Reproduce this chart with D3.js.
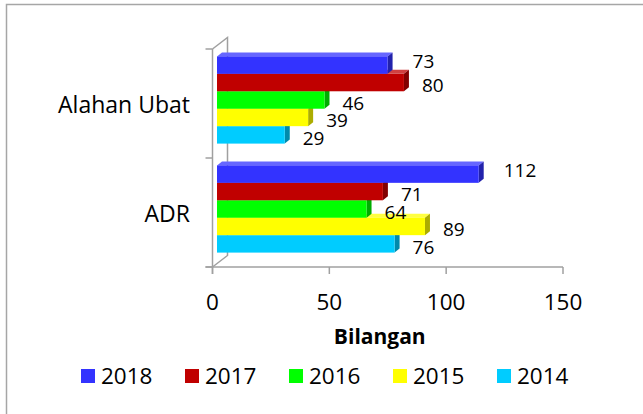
<!DOCTYPE html>
<html>
<head>
<meta charset="utf-8">
<script src="https://cdn.jsdelivr.net/npm/d3@7"></script>
<style>
  body { margin: 0; background: #fff; }
  text { font-family: "Open Sans", "Liberation Sans", sans-serif; fill: #000; }
</style>
</head>
<body>
<svg id="chart" width="643" height="414"></svg>
<script>
// data
var categories = ["Alahan Ubat", "ADR"];
var years = ["2018", "2017", "2016", "2015", "2014"];
var v2018 = [73, 112];
var v2017 = [80, 71];
var v2016 = [46, 64];
var v2015 = [39, 89];
var v2014 = [29, 76];
var xTicks = [0, 50, 100, 150];
var xTitle = "Bilangan";

var seriesValues = [v2018, v2017, v2016, v2015, v2014];
var colors = ["#3333ff", "#c00000", "#00ff00", "#ffff00", "#00ccff"];

var svg = d3.select("#chart");

// outer chart border (runs off right / bottom edge)
svg.append("rect")
  .attr("x", 6.5).attr("y", 4.5)
  .attr("width", 700).attr("height", 500)
  .style("fill", "none").style("stroke", "#a6a6a6").style("stroke-width", 1.5);

var x = d3.scaleLinear().domain([0, 150]).range([212.5, 563]);
var y = d3.scaleBand().domain(categories).range([49, 267]).padding(0);
var ySeries = d3.scaleBand().domain(years)
  .range([0.1 * y.bandwidth(), 0.9 * y.bandwidth()]).padding(0);

// wall depth and bar depth
var wall = {dx: 15, dy: -11.5},
    off = {dx: 4.5, dy: -3.5},
    depth = {dx: 5, dy: -4};

var g = svg.append("g");
var axisColor = "#a0a0a0";

// back wall line + connecting diagonals
g.append("path")
  .attr("d", "M" + x(0) + "," + y.range()[0] + "L" + (x(0) + wall.dx) + "," + (y.range()[0] + wall.dy) +
    "L" + (x(0) + wall.dx) + "," + (y.range()[1] + wall.dy) + "L" + x(0) + "," + y.range()[1])
  .style("fill", "none").style("stroke", axisColor).style("stroke-width", 1.5);

// front category axis
g.append("line")
  .attr("x1", x(0)).attr("x2", x(0))
  .attr("y1", y.range()[0]).attr("y2", y.range()[1] + 7)
  .style("stroke", axisColor).style("stroke-width", 1.5);

var catTicks = [y.range()[0]].concat(categories.map(function (c) { return y(c) + y.bandwidth(); }));
g.selectAll(".ctick").data(catTicks).enter().append("line")
  .attr("x1", x(0) - 7).attr("x2", x(0))
  .attr("y1", function (d) { return d; }).attr("y2", function (d) { return d; })
  .style("stroke", axisColor).style("stroke-width", 1.5);

// x axis line and ticks
g.append("line")
  .attr("x1", x(0) - 7).attr("x2", x(150))
  .attr("y1", y.range()[1]).attr("y2", y.range()[1])
  .style("stroke", axisColor).style("stroke-width", 1.5);

g.selectAll(".xtick").data(xTicks).enter().append("line")
  .attr("x1", function (d) { return x(d); }).attr("x2", function (d) { return x(d); })
  .attr("y1", y.range()[1]).attr("y2", y.range()[1] + 7)
  .style("stroke", axisColor).style("stroke-width", 1.5);

g.selectAll(".xlab").data(xTicks).enter().append("text")
  .attr("x", function (d) { return x(d); })
  .attr("y", 302)
  .attr("dy", "0.35em")
  .style("text-anchor", "middle")
  .style("font-size", "22.5px")
  .text(function (d) { return d; });

g.append("text")
  .attr("x", (x(0) + x(150)) / 2 - 8)
  .attr("y", 337)
  .attr("dy", "0.35em")
  .style("text-anchor", "middle")
  .style("font-size", "21px")
  .style("font-weight", "bold")
  .text(xTitle);

// category labels
g.selectAll(".clab").data(categories).enter().append("text")
  .attr("x", 190)
  .attr("y", function (d) { return y(d) + y.bandwidth() / 2 + 1; })
  .attr("dy", "0.35em")
  .style("text-anchor", "end")
  .style("font-size", "23px")
  .text(function (d) { return d; });

// bars, bottom series first so upper boxes overlap lower tops
var bars = [];
seriesValues.forEach(function (vals, si) {
  vals.forEach(function (v, ci) {
    bars.push({s: si, c: ci, v: v});
  });
});
bars.sort(function (a, b) { return b.s - a.s; });

function shade(col, k) {
  var c = d3.rgb(col);
  return k < 0 ? c.darker(-k).toString() : d3.interpolateRgb(col, "#ffffff")(k);
}

bars.forEach(function (d) {
  var x0 = x(0) + off.dx, x1 = x(d.v) + off.dx;
  var y0 = y(categories[d.c]) + ySeries(years[d.s]) + off.dy;
  var y1 = y0 + ySeries.bandwidth();
  var col = colors[d.s];
  var b = g.append("g");
  // top face
  b.append("path")
    .attr("d", "M" + x0 + "," + y0 + "L" + (x0 + depth.dx) + "," + (y0 + depth.dy) +
      "L" + (x1 + depth.dx) + "," + (y0 + depth.dy) + "L" + x1 + "," + y0 + "Z")
    .style("fill", shade(col, 0.25));
  // side face
  b.append("path")
    .attr("d", "M" + x1 + "," + y0 + "L" + (x1 + depth.dx) + "," + (y0 + depth.dy) +
      "L" + (x1 + depth.dx) + "," + (y1 + depth.dy) + "L" + x1 + "," + y1 + "Z")
    .style("fill", shade(col, -1.1));
  // front face
  b.append("rect")
    .attr("x", x0).attr("y", y0)
    .attr("width", x1 - x0).attr("height", y1 - y0)
    .style("fill", col);
});

// data labels
bars.forEach(function (d) {
  var yc = y(categories[d.c]) + ySeries(years[d.s]) + off.dy + ySeries.bandwidth() / 2;
  g.append("text")
    .attr("x", x(d.v) + off.dx + depth.dx + (d.s === 0 ? 20 : 13))
    .attr("y", yc + (d.s === 0 ? -4 : 3))
    .attr("dy", "0.35em")
    .style("font-size", "19px")
    .text(d.v);
});

// legend
var legend = svg.append("g").selectAll("g").data(years).enter().append("g")
  .attr("transform", function (d, i) { return "translate(" + (81 + i * 104) + ",369)"; });
legend.append("rect")
  .attr("width", 14).attr("height", 14)
  .style("fill", function (d, i) { return colors[i]; });
legend.append("text")
  .attr("x", 20).attr("y", 7)
  .attr("dy", "0.35em")
  .style("font-size", "22.5px")
  .text(function (d) { return d; });
</script>
</body>
</html>
